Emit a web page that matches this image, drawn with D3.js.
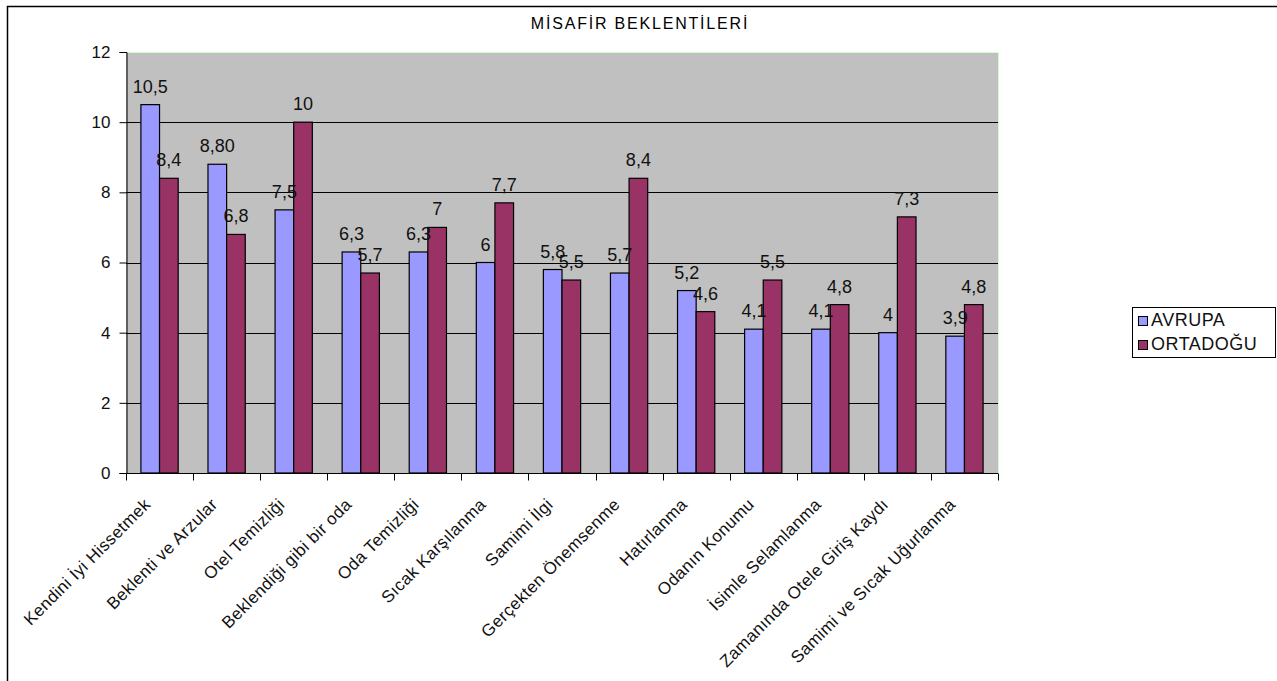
<!DOCTYPE html>
<html>
<head>
<meta charset="utf-8">
<script src="https://cdn.jsdelivr.net/npm/d3@7"></script>
<style>
  body { margin: 0; background: #fff; }
  svg { display: block; font-family: "Liberation Sans", Arial, sans-serif; }
</style>
</head>
<body>
<svg id="chart" width="1277" height="681"></svg>
<script>
const categories = ['Kendini İyi Hissetmek', 'Beklenti ve Arzular', 'Otel Temizliği', 'Beklendiği gibi bir oda',
    'Oda Temizliği', 'Sıcak Karşılanma', 'Samimi İlgi', 'Gerçekten Önemsenme', 'Hatırlanma',
    'Odanın Konumu', 'İsimle Selamlanma', 'Zamanında Otele Giriş Kaydı', 'Samimi ve Sıcak Uğurlanma']
const seriesNames = ['AVRUPA', 'ORTADOĞU']
const avrupa = [10.5, 8.8, 7.5, 6.3, 6.3, 6, 5.8, 5.7, 5.2, 4.1, 4.1, 4, 3.9]
const ortadogu = [8.4, 6.8, 10, 5.7, 7, 7.7, 5.5, 8.4, 4.6, 5.5, 4.8, 7.3, 4.8]
const avrupaLabels = ['10,5', '8,80', '7,5', '6,3', '6,3', '6', '5,8', '5,7', '5,2', '4,1', '4,1', '4', '3,9']
const ortadoguLabels = ['8,4', '6,8', '10', '5,7', '7', '7,7', '5,5', '8,4', '4,6', '5,5', '4,8', '7,3', '4,8']
const yTicks = [0, 2, 4, 6, 8, 10, 12]
const colors = ['#9999ff', '#993366']

const svg = d3.select('#chart')
const margin = {left: 126, right: 998, top: 52, bottom: 473}

// outer frame (only top and left edges are visible)
svg.append('path')
    .attr('d', 'M7.5,690 V6.5 H1290')
    .attr('fill', 'none').attr('stroke', '#000').attr('stroke-width', 1.5)

svg.append('text')
    .attr('x', 640).attr('y', 29)
    .attr('text-anchor', 'middle')
    .style('font-size', '16px')
    .style('letter-spacing', '1.8px')
    .text('MİSAFİR BEKLENTİLERİ')

const x = d3.scaleBand().domain(categories).range([margin.left, margin.right])
const barW = x.bandwidth() / 3.6
const y = d3.scaleLinear().domain([0, 12]).range([margin.bottom, margin.top])

// plot area
svg.append('rect')
    .attr('x', margin.left).attr('y', margin.top)
    .attr('width', margin.right - margin.left).attr('height', margin.bottom - margin.top)
    .attr('fill', '#c0c0c0')
svg.append('path')
    .attr('d', `M${margin.left},${margin.top + 0.5} H${margin.right + 0.5} V${margin.bottom}`)
    .attr('fill', 'none').attr('stroke', '#ccffcc')

svg.append('g').selectAll('line')
    .data(yTicks.filter(d => d > 0 && d < 12))
    .join('line')
    .attr('x1', margin.left).attr('x2', margin.right)
    .attr('y1', d => Math.round(y(d)) + 0.5).attr('y2', d => Math.round(y(d)) + 0.5)
    .attr('stroke', '#000')

const groups = svg.append('g').selectAll('g')
    .data(categories)
    .join('g')
    .attr('transform', d => `translate(${x(d) + x.bandwidth() / 2 - barW}, 0)`)

const series = [avrupa, ortadogu]
const seriesLabels = [avrupaLabels, ortadoguLabels]
series.forEach((vals, s) => {
    groups.append('rect')
        .attr('x', s * barW)
        .attr('y', (d, i) => y(vals[i]))
        .attr('width', barW)
        .attr('height', (d, i) => y(0) - y(vals[i]))
        .attr('fill', colors[s])
        .attr('stroke', '#000')
        .attr('stroke-width', 1.2)
})
series.forEach((vals, s) => {
    groups.append('text')
        .attr('x', s * barW + barW / 2)
        .attr('y', (d, i) => y(vals[i]) - 12)
        .attr('text-anchor', 'middle')
        .style('font-size', '18px')
        .attr('fill', '#111')
        .text((d, i) => seriesLabels[s][i])
})

// y axis
const yAxis = svg.append('g')
    .attr('transform', `translate(${margin.left + 0.5}, 0)`)
    .call(d3.axisLeft(y).tickValues(yTicks).tickSize(7).tickFormat(d => d))
yAxis.select('.domain').attr('stroke', '#000')
yAxis.selectAll('text')
    .style('font-size', '17px')
    .style('font-family', '"Liberation Sans", Arial, sans-serif')
    .attr('fill', '#111')
    .attr('x', -16)

// x axis: ticks between categories
const xAxis = svg.append('g').attr('transform', `translate(0, ${margin.bottom + 0.5})`)
xAxis.append('line').attr('x1', margin.left).attr('x2', margin.right).attr('stroke', '#000')
xAxis.selectAll('line.tick')
    .data(d3.range(categories.length + 1))
    .join('line')
    .attr('class', 'tick')
    .attr('x1', i => Math.round(margin.left + i * x.step()) + 0.5)
    .attr('x2', i => Math.round(margin.left + i * x.step()) + 0.5)
    .attr('y1', 0).attr('y2', 7)
    .attr('stroke', '#000')
xAxis.selectAll('text')
    .data(categories)
    .join('text')
    .attr('text-anchor', 'end')
    .attr('transform', d => `translate(${x(d) + x.bandwidth() / 2 - 8}, 32) rotate(-45)`)
    .style('font-size', '17px')
    .style('letter-spacing', '0.4px')
    .attr('fill', '#111')
    .text(d => d)

// legend
const legend = svg.append('g').attr('transform', 'translate(1132, 307)')
legend.append('rect')
    .attr('x', 0.5).attr('y', 0.5).attr('width', 143).attr('height', 50)
    .attr('fill', '#fff').attr('stroke', '#000')
legend.selectAll('g')
    .data(seriesNames)
    .join('g')
    .attr('transform', (d, i) => `translate(6, ${19 + i * 24})`)
    .call(g => {
        g.append('rect').attr('x', 0.5).attr('y', -9.5).attr('width', 9).attr('height', 9)
            .attr('fill', (d, i) => colors[i]).attr('stroke', '#000')
        g.append('text').attr('x', 13).attr('y', 0)
            .style('font-size', '18px')
            .style('letter-spacing', '0.5px')
            .attr('fill', '#111')
            .text(d => d)
    })
</script>
</body>
</html>
